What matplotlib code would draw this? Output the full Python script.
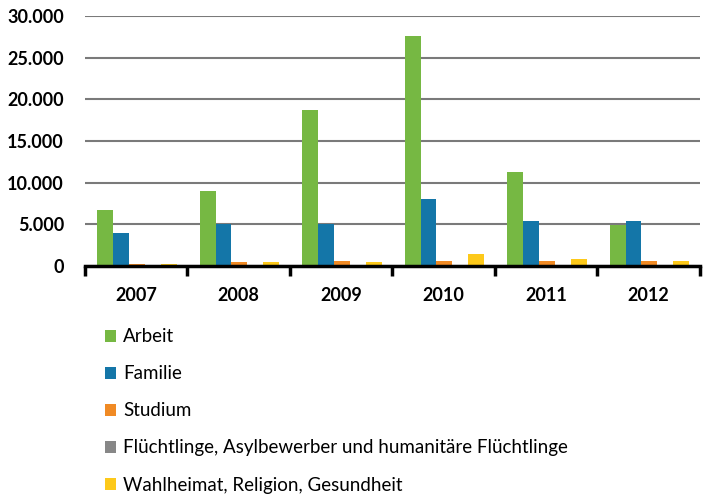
import matplotlib
matplotlib.use('Agg')
import matplotlib.pyplot as plt
from matplotlib.patches import Patch
from matplotlib.ticker import FuncFormatter
import numpy as np

years = ['2007', '2008', '2009', '2010', '2011', '2012']
series_names = ['Arbeit', 'Familie', 'Studium',
                'Flüchtlinge, Asylbewerber und humanitäre Flüchtlinge',
                'Wahlheimat, Religion, Gesundheit']
arbeit = [6700, 9000, 18700, 27600, 11300, 4900]
familie = [4000, 5000, 5100, 8000, 5400, 5400]
studium = [300, 500, 550, 650, 650, 650]
fluechtlinge = [0, 0, 0, 0, 0, 0]
wahlheimat = [200, 450, 450, 1500, 800, 650]
colors = ['#76b843', '#1476a8', '#f08a24', '#878787', '#fdc91a']

plt.rcParams['font.family'] = ['Lato', 'DejaVu Sans']

fig = plt.figure(figsize=(7.07, 4.95), dpi=100)
ax = fig.add_axes([0.120, 0.4626, 0.870, 0.505])

values = [arbeit, familie, studium, fluechtlinge, wahlheimat]
x = np.arange(len(years))
w = 0.155
for i, vals in enumerate(values):
    ax.bar(x - 0.5 + 0.12 + w * i + w / 2, vals, width=w, color=colors[i], zorder=3)

ax.set_xlim(-0.5, len(years) - 0.5)
ax.set_ylim(0, 30000)
ax.set_yticks(range(0, 30001, 5000))
ax.yaxis.set_major_formatter(FuncFormatter(lambda v, p: f'{int(v):,}'.replace(',', '.')))
ax.grid(axis='y', color='#7a7a7a', linewidth=1.5, zorder=0)
ax.tick_params(axis='y', length=0, pad=15, labelsize=13)
for lbl in ax.get_yticklabels():
    lbl.set_fontweight('bold')

ax.set_xticks(x)
ax.set_xticklabels(years, fontweight='bold', fontsize=13)
ax.set_xticks(np.arange(-0.5, len(years)), minor=True)
ax.tick_params(axis='x', which='major', length=0, pad=15)
ax.tick_params(axis='x', which='minor', length=7, width=2.5, color='black')

for s in ['top', 'right', 'left']:
    ax.spines[s].set_visible(False)
ax.spines['bottom'].set_linewidth(2.5)
ax.spines['bottom'].set_zorder(4)

handles = [Patch(facecolor=c, edgecolor='none') for c in colors]
fig.legend(handles, series_names, loc='upper left', bbox_to_anchor=(0.138, 0.352),
           frameon=False, fontsize=13.5, handlelength=0.6, handleheight=0.6,
           handletextpad=0.35, labelspacing=1.07, borderaxespad=0)

fig.savefig('out.png', dpi=100)
